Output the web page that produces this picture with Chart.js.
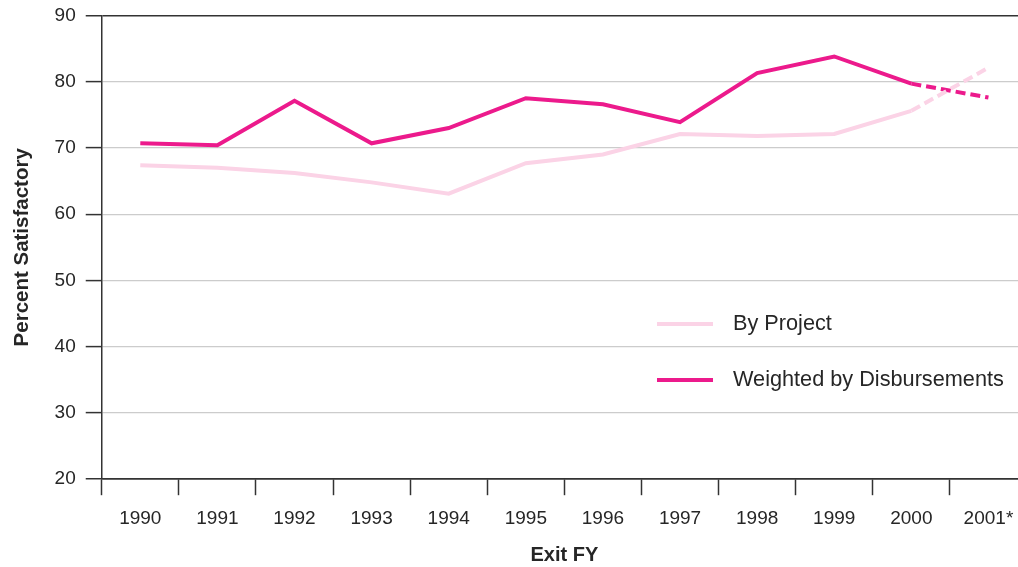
<!DOCTYPE html>
<html>
<head>
<meta charset="utf-8">
<script src="https://cdn.jsdelivr.net/npm/chart.js@4.4.1/dist/chart.umd.min.js"></script>
<style>
  html, body { margin: 0; padding: 0; background: #fff; overflow: hidden; }
  #wrap { width: 1040px; height: 575px; position: absolute; left: 0; top: -6px; }
</style>
</head>
<body>
<div id="wrap"><canvas id="c" width="1040" height="575"></canvas></div>
<script>
const categories = ['1990','1991','1992','1993','1994','1995','1996','1997','1998','1999','2000','2001*'];
const byProject = [67.4, 67.0, 66.2, 64.8, 63.1, 67.7, 69.0, 72.1, 71.8, 72.1, 75.6, 82.1];
const weighted = [70.7, 70.4, 77.1, 70.7, 73.0, 77.5, 76.6, 73.9, 81.3, 83.8, 79.7, 77.6];
const yTicks = [20, 30, 40, 50, 60, 70, 80, 90];
const seriesLabels = ['By Project', 'Weighted by Disbursements'];
const colLight = '#fbd3e6';
const colDark = '#ec1a8c';
const FONT = "'Liberation Sans', Arial, sans-serif";

const lastDash = (ctx) => ctx.p1DataIndex === categories.length - 1 ? [10, 5] : undefined;

const legendPlugin = {
  id: 'insideLegend',
  afterDatasetsDraw(chart) {
    const ctx = chart.ctx;
    const off = 6;
    const rows = [{ y: 324 + off, ds: 0 }, { y: 380 + off, ds: 1 }];
    ctx.save();
    rows.forEach(r => {
      const ds = chart.data.datasets[r.ds];
      ctx.strokeStyle = ds.borderColor;
      ctx.lineWidth = 4;
      ctx.beginPath();
      ctx.moveTo(657, r.y);
      ctx.lineTo(713, r.y);
      ctx.stroke();
      ctx.fillStyle = '#262626';
      ctx.font = "21.7px " + FONT;
      ctx.textBaseline = 'middle';
      ctx.textAlign = 'left';
      ctx.fillText(ds.label, 733, r.y);
    });
    ctx.restore();
  }
};

new Chart(document.getElementById('c'), {
  type: 'line',
  data: {
    labels: categories,
    datasets: [
      { label: seriesLabels[0], data: byProject, borderColor: colLight, backgroundColor: colLight,
        borderWidth: 4, pointRadius: 0, tension: 0, segment: { borderDash: lastDash } },
      { label: seriesLabels[1], data: weighted, borderColor: colDark, backgroundColor: colDark,
        borderWidth: 4, pointRadius: 0, tension: 0, segment: { borderDash: lastDash } }
    ]
  },
  options: {
    responsive: false,
    animation: false,
    layout: { padding: { top: 4, right: 13, left: 10, bottom: 0 } },
    plugins: { legend: { display: false }, tooltip: { enabled: false } },
    scales: {
      x: {
        type: 'category',
        offset: true,
        grid: { offset: true, drawOnChartArea: false, drawTicks: true, tickLength: 16, tickColor: '#333', tickWidth: 1.5 },
        border: { display: true, color: '#333', width: 1.5 },
        ticks: { color: '#262626', font: { family: FONT, size: 19 }, padding: 12, maxRotation: 0, autoSkip: false },
        title: { display: true, text: 'Exit FY', color: '#262626', font: { family: FONT, size: 20, weight: 'bold' }, padding: { top: 1, bottom: 2 } }
      },
      y: {
        min: 20, max: 90,
        afterBuildTicks: (axis) => { axis.ticks = yTicks.map(v => ({ value: v })); },
        grid: {
          color: (c) => (c.tick && (c.tick.value === 90 || c.tick.value === 20)) ? '#333' : '#cccccc',
          lineWidth: (c) => (c.tick && (c.tick.value === 90 || c.tick.value === 20)) ? 1.5 : 1.2,
          tickColor: '#333', tickLength: 16, tickWidth: 1.5
        },
        border: { display: true, color: '#333', width: 1.5 },
        ticks: { color: '#262626', font: { family: FONT, size: 19 }, padding: 10 },
        title: { display: true, text: 'Percent Satisfactory', color: '#262626', font: { family: FONT, size: 20.5, weight: 'bold' }, padding: { top: 0, bottom: 10 } }
      }
    }
  },
  plugins: [legendPlugin]
});
</script>
</body>
</html>
